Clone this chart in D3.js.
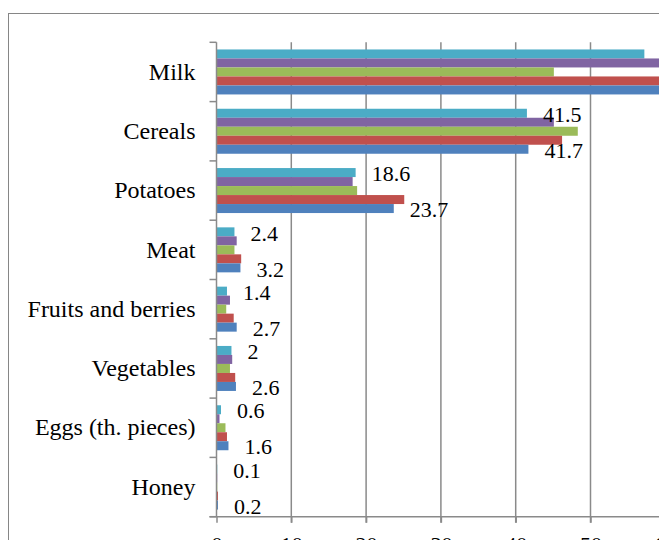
<!DOCTYPE html>
<html>
<head>
<meta charset="utf-8">
<script src="https://cdn.jsdelivr.net/npm/d3@7"></script>
<style>
  body { margin: 0; background: #fff; }
  svg { display: block; }
</style>
</head>
<body>
<div id="chart"></div>
<script>
// categories, top to bottom
var categories = ["Milk", "Cereals", "Potatoes", "Meat", "Fruits and berries", "Vegetables", "Eggs (th. pieces)", "Honey"];

// series, drawn top to bottom inside each category
var seriesNames = ["Series 5", "Series 4", "Series 3", "Series 2", "Series 1"];
var seriesColors = ["#4BACC6", "#8064A2", "#9BBB59", "#C0504D", "#4F81BD"];

var series5 = [57.2, 41.5, 18.6, 2.4, 1.4, 2.0, 0.6, 0.1];
var series4 = [63.0, 45.1, 18.2, 2.7, 1.8, 2.1, 0.4, 0.1];
var series3 = [45.1, 48.3, 18.8, 2.4, 1.3, 1.8, 1.2, 0.1];
var series2 = [65.5, 46.2, 25.1, 3.3, 2.3, 2.5, 1.4, 0.2];
var series1 = [67.8, 41.7, 23.7, 3.2, 2.7, 2.6, 1.6, 0.2];
var seriesValues = [series5, series4, series3, series2, series1];

// only the top and bottom series carry data labels
var labelledSeries = ["Series 5", "Series 1"];

var xTicks = [0, 10, 20, 30, 40, 50, 60, 70];

var serif = "'Liberation Serif', 'Times New Roman', Times, serif";

// Chart set up
var svgWidth = 659;
var svgHeight = 540;

var svg = d3.select("#chart")
  .append("svg")
  .attr("width", svgWidth)
  .attr("height", svgHeight);

// outer chart border
svg.append("rect")
  .attr("x", 8.5)
  .attr("y", 13.5)
  .attr("width", 700)
  .attr("height", 600)
  .attr("fill", "none")
  .attr("stroke", "#868686")
  .attr("stroke-width", 1);

var plotLeft = 216.5, plotTop = 42.3, plotBottom = 516.7;
var unit = 7.48;

var xScale = d3.scaleLinear()
  .domain([0, 70])
  .range([plotLeft, plotLeft + 70 * unit]);

var yScale = d3.scaleBand()
  .domain(categories)
  .range([plotTop, plotBottom])
  .paddingInner(0)
  .paddingOuter(0);

var inner = d3.scaleBand()
  .domain(seriesNames)
  .range([0, yScale.bandwidth()])
  .paddingInner(0)
  .paddingOuter(0.795);

// gridlines
svg.append("g")
  .selectAll("line")
  .data(xTicks.slice(1))
  .enter()
  .append("line")
  .attr("x1", d => xScale(d))
  .attr("x2", d => xScale(d))
  .attr("y1", plotTop)
  .attr("y2", plotBottom + 6)
  .attr("stroke", "#8a8a8a")
  .attr("stroke-width", 1.5);

// flatten data
var rows = [];
seriesNames.forEach(function(s, si) {
  categories.forEach(function(c, ci) {
    rows.push({ series: s, cat: c, value: seriesValues[si][ci], color: seriesColors[si] });
  });
});

// bars
svg.append("g")
  .selectAll("rect")
  .data(rows)
  .enter()
  .append("rect")
  .attr("x", xScale(0))
  .attr("y", d => yScale(d.cat) + inner(d.series))
  .attr("width", d => xScale(d.value) - xScale(0))
  .attr("height", inner.bandwidth())
  .attr("fill", d => d.color);

// data labels
svg.append("g")
  .attr("font-family", serif)
  .attr("font-size", 22)
  .selectAll("text")
  .data(rows.filter(d => labelledSeries.indexOf(d.series) >= 0))
  .enter()
  .append("text")
  .attr("x", d => xScale(d.value) + 16)
  .attr("y", d => yScale(d.cat) + inner(d.series) + inner.bandwidth() / 2 + 1)
  .attr("dy", "0.35em")
  .attr("fill", "#000")
  .text(d => d.value);

// left axis
var leftAxis = d3.axisLeft(yScale).tickSize(0).tickPadding(21);
var gLeft = svg.append("g")
  .attr("transform", `translate(${plotLeft}, 0)`)
  .call(leftAxis)
  .attr("font-family", serif)
  .attr("font-size", 24);
gLeft.select(".domain").remove();
gLeft.selectAll("text").attr("fill", "#000");

// left axis line and tick marks at band edges
var bandEdges = categories.map(c => yScale(c)).concat([plotBottom]);
svg.append("line")
  .attr("x1", plotLeft).attr("x2", plotLeft)
  .attr("y1", plotTop).attr("y2", plotBottom)
  .attr("stroke", "#8a8a8a").attr("stroke-width", 1.5);
svg.append("g")
  .selectAll("line")
  .data(bandEdges)
  .enter()
  .append("line")
  .attr("x1", plotLeft - 7).attr("x2", plotLeft)
  .attr("y1", d => d).attr("y2", d => d)
  .attr("stroke", "#8a8a8a").attr("stroke-width", 1.5);

// bottom axis
var bottomAxis = d3.axisBottom(xScale).tickValues(xTicks).tickSize(6).tickPadding(14);
var gBottom = svg.append("g")
  .attr("transform", `translate(0, ${plotBottom})`)
  .call(bottomAxis)
  .attr("font-family", serif)
  .attr("font-size", 22);
gBottom.select(".domain")
  .attr("d", `M${plotLeft - 7},0H${svgWidth + 50}`)
  .attr("stroke", "#8a8a8a").attr("stroke-width", 1.5);
gBottom.selectAll(".tick line").attr("stroke", "#8a8a8a").attr("stroke-width", 1.5);
gBottom.selectAll("text").attr("fill", "#000");
</script>
</body>
</html>
